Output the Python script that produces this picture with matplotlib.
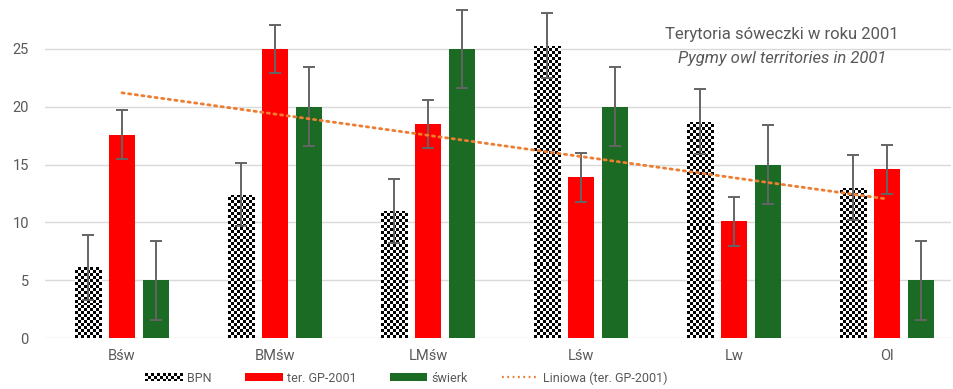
import numpy as np
import matplotlib
matplotlib.use("Agg")
import matplotlib.pyplot as plt
from matplotlib.patches import Rectangle
from matplotlib.lines import Line2D
from matplotlib.legend_handler import HandlerBase

# Data
categories = ["Bśw", "BMśw", "LMśw", "Lśw", "Lw", "Ol"]
bpn = [6.1, 12.4, 11.0, 25.3, 18.7, 13.0]
bpn_err = [2.8, 2.75, 2.75, 2.8, 2.8, 2.8]
ter_gp = [17.6, 25.0, 18.5, 13.9, 10.1, 14.6]
ter_gp_err = [2.1, 2.1, 2.1, 2.1, 2.1, 2.1]
swierk = [5.0, 20.0, 25.0, 20.0, 15.0, 5.0]
swierk_err = [3.4, 3.4, 3.4, 3.4, 3.4, 3.4]
yticks = [0, 5, 10, 15, 20, 25]

FONT = "Roboto"
GREY = "#595959"
RED = "#FF0000"
GREEN = "#1B6B24"
ORANGE = "#ED7D31"

W, H = 954, 389
fig = plt.figure(figsize=(W / 100, H / 100), dpi=100)
ax_left, ax_right, ax_bottom = 45.5, 951, 51
ax = fig.add_axes([ax_left / W, ax_bottom / H, (ax_right - ax_left) / W, (H - ax_bottom) / H])

x_min = -0.5
x_max = x_min + (ax_right - ax_left) / 153.0
y_max = (H - ax_bottom) / 11.56
ax.set_xlim(x_min, x_max)
ax.set_ylim(0, y_max)

px_x = (ax_right - ax_left) / (x_max - x_min)  # pixels per x unit
px_y = (H - ax_bottom) / y_max                 # pixels per y unit

x = np.arange(len(categories))
bw = 0.176
off = 0.222
cell = 3.0  # checker cell size in px

# checkered BPN bars
bars = ax.bar(x - off, bpn, bw, color="white", edgecolor="none", zorder=2)
for b in bars:
    x0, w, h = b.get_x(), b.get_width(), b.get_height()
    nc = max(1, int(round(w * px_x / cell)))
    nr = max(1, int(round(h * px_y / cell)))
    board = (np.add.outer(np.arange(nr), np.arange(nc)) % 2).astype(float)
    im = ax.imshow(board, cmap="gray", extent=(x0, x0 + w, 0, h), origin="lower",
                   interpolation="nearest", aspect="auto", zorder=2)
    im.set_clip_path(b)
ax.set_xlim(x_min, x_max)
ax.set_ylim(0, y_max)

ax.bar(x, ter_gp, bw, color=RED, zorder=2)
ax.bar(x + off, swierk, bw, color=GREEN, zorder=2)

ekw = dict(fmt="none", ecolor="#646464", elinewidth=1.4, capsize=4, capthick=1.4, zorder=3)
ax.errorbar(x - off, bpn, yerr=bpn_err, **ekw)
ax.errorbar(x, ter_gp, yerr=ter_gp_err, **ekw)
ax.errorbar(x + off, swierk, yerr=swierk_err, **ekw)

# linear trendline of ter. GP-2001
k, c = np.polyfit(x + 1, ter_gp, 1)
ax.plot(x, k * (x + 1) + c, color=ORANGE, lw=2, ls=(0, (0.8, 1.6)),
        dash_capstyle="round", zorder=4)

# axes styling
for s in ax.spines.values():
    s.set_visible(False)
ax.set_yticks(yticks)
ax.grid(axis="y", color="#D9D9D9", lw=1, zorder=0)
ax.set_axisbelow(True)
ax.set_xticks(x)
ax.set_xticklabels(categories)
ax.tick_params(axis="both", length=0, colors=GREY, labelsize=10.5)
ax.tick_params(axis="y", pad=12)
ax.tick_params(axis="x", pad=8)
for lab in ax.get_xticklabels() + ax.get_yticklabels():
    lab.set_fontfamily(FONT)

# title
fig.text(782 / W, 1 - 35 / H, "Terytoria sóweczki w roku 2001", ha="center", va="center",
         fontsize=12, color=GREY, family=FONT)
fig.text(782 / W, 1 - 58 / H, "Pygmy owl territories in 2001", ha="center", va="center",
         fontsize=12, color=GREY, family=FONT, style="italic")


class CheckerHandler(HandlerBase):
    def create_artists(self, legend, orig_handle, xdescent, ydescent, width, height,
                       fontsize, trans):
        arts = []
        nc = 13
        nr = 3
        cw = width / nc
        ch = height / nr
        for i in range(nr):
            for j in range(nc):
                fc = "black" if (i + j) % 2 == 0 else "white"
                arts.append(Rectangle((-xdescent + j * cw, -ydescent + i * ch), cw, ch,
                                      facecolor=fc, edgecolor="none", transform=trans))
        return arts


h_bpn = Rectangle((0, 0), 1, 1, facecolor="white")
h_red = Rectangle((0, 0), 1, 1, facecolor=RED)
h_green = Rectangle((0, 0), 1, 1, facecolor=GREEN)
h_trend = Line2D([0], [0], color=ORANGE, lw=1.6, ls=(0, (0.8, 1.6)))
leg = fig.legend([h_bpn, h_red, h_green, h_trend],
                 ["BPN", "ter. GP-2001", "świerk", "Liniowa (ter. GP-2001)"],
                 handler_map={h_bpn: CheckerHandler()},
                 loc="center", bbox_to_anchor=(406.5 / W, 11 / H), ncol=4, frameon=False,
                 handlelength=3.0, handleheight=0.64, handletextpad=0.32, columnspacing=2.7,
                 borderpad=0.1, prop={"family": FONT, "size": 9})
for t in leg.get_texts():
    t.set_color(GREY)

fig.savefig("out.png", dpi=100)
